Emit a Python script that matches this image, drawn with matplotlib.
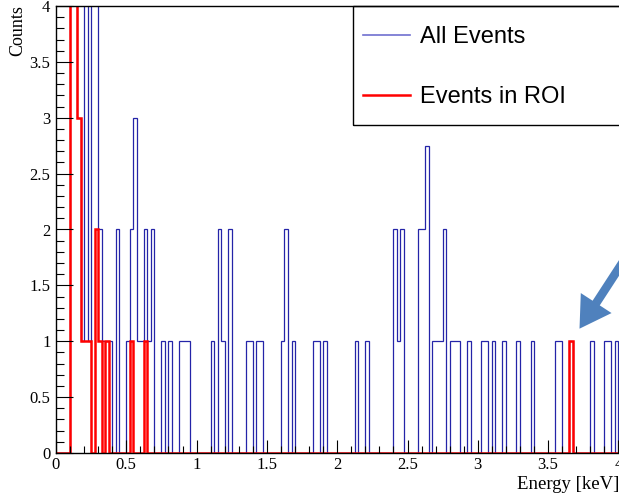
import numpy as np
import matplotlib
matplotlib.use("Agg")
import matplotlib.pyplot as plt
from matplotlib.lines import Line2D
from matplotlib.patches import Rectangle, FancyArrowPatch
from matplotlib.ticker import MultipleLocator, FormatStrFormatter

# histogram contents, 0.025 keV bins starting at 0 keV
bin_width = 0.025
all_events = [
    0, 0, 0, 0, 6, 5, 3, 1, 5, 1, 5, 5, 2, 1, 1, 1, 0, 2, 0, 0,
    1, 2, 3, 1, 1, 2, 1, 2, 0, 0, 1, 0, 1, 0, 0, 1, 1, 1, 0, 0,
    0, 0, 0, 0, 1, 0, 2, 1, 0, 2, 0, 0, 0, 0, 1, 1, 0, 1, 1, 0,
    0, 0, 0, 0, 1, 2, 0, 1, 0, 0, 0, 0, 0, 1, 1, 0, 1, 0, 0, 0,
    0, 0, 0, 0, 0, 1, 0, 0, 1, 0, 0, 0, 0, 0, 0, 0, 2, 1, 2, 0,
    0, 0, 0, 2, 2, 2.75, 0, 1, 1, 1, 2, 0, 1, 1, 1, 0, 0, 1, 0, 0,
    0, 1, 1, 0, 1, 0, 0, 1, 0, 0, 0, 1, 0, 0, 0, 1, 0, 0, 0, 0,
    0, 0, 1, 1, 0, 0, 1, 0, 0, 0, 0, 0, 1, 0, 0, 0, 1, 1, 0, 1,
]
roi_events = [
    0, 0, 0, 0, 6, 5, 3, 1, 1, 1, 0, 2, 1, 0, 1, 0, 0, 0, 0, 0,
    0, 1, 0, 0, 0, 1, 0, 0, 0, 0, 0, 0, 0, 0, 0, 0, 0, 0, 0, 0,
    0, 0, 0, 0, 0, 0, 0, 0, 0, 0, 0, 0, 0, 0, 0, 0, 0, 0, 0, 0,
    0, 0, 0, 0, 0, 0, 0, 0, 0, 0, 0, 0, 0, 0, 0, 0, 0, 0, 0, 0,
    0, 0, 0, 0, 0, 0, 0, 0, 0, 0, 0, 0, 0, 0, 0, 0, 0, 0, 0, 0,
    0, 0, 0, 0, 0, 0, 0, 0, 0, 0, 0, 0, 0, 0, 0, 0, 0, 0, 0, 0,
    0, 0, 0, 0, 0, 0, 0, 0, 0, 0, 0, 0, 0, 0, 0, 0, 0, 0, 0, 0,
    0, 0, 0, 0, 0, 0, 1, 0, 0, 0, 0, 0, 0, 0, 0, 0, 0, 0, 0, 0,
]
edges = np.arange(len(all_events) + 1) * bin_width

blue = "#2424a8"
red = "#ff0000"
serif = "Liberation Serif"

fig = plt.figure(figsize=(6.19, 4.94), dpi=100)
# axis runs off the right edge of the picture
ax = fig.add_axes([56/619, 41/494, 4.4*140.6/619, 447/494])

ax.stairs(all_events, edges, color=blue, lw=0.9)
ax.stairs(roi_events, edges, color=red, lw=1.8)

ax.set_xlim(0, 4.4)
ax.set_ylim(0, 4)

ax.xaxis.set_major_locator(MultipleLocator(0.5))
ax.xaxis.set_minor_locator(MultipleLocator(0.1))
ax.yaxis.set_major_locator(MultipleLocator(0.5))
ax.yaxis.set_minor_locator(MultipleLocator(0.1))
ax.xaxis.set_major_formatter(FormatStrFormatter("%g"))
ax.yaxis.set_major_formatter(FormatStrFormatter("%g"))
ax.tick_params(axis="x", which="major", direction="in", length=9.5, width=0.8, pad=3)
ax.tick_params(axis="x", which="minor", direction="in", length=5, width=0.8)
ax.tick_params(axis="y", which="major", direction="in", length=12, width=0.8, pad=4)
ax.tick_params(axis="y", which="minor", direction="in", length=6, width=0.8)
for lab in ax.get_xticklabels() + ax.get_yticklabels():
    lab.set_family(serif)
    lab.set_fontsize(12)
for s in ax.spines.values():
    s.set_linewidth(1)

fig.text(18/619, 1 - 5/494, "Counts", rotation=90, ha="center", va="top",
         family=serif, fontsize=13)
fig.text(1.0, 5/494, "Energy [keV]", ha="right", va="baseline",
         family=serif, fontsize=13.5)

# legend
handles = [Line2D([], [], color="#7070d0", lw=1.2), Line2D([], [], color=red, lw=1.8)]
fig.legend(handles, ["All Events", "Events in ROI"], loc="upper left",
           bbox_to_anchor=(363/619, 1 - 26/494), bbox_transform=fig.transFigure,
           frameon=False, prop={"family": "Liberation Sans", "size": 17},
           handlelength=2.0, handletextpad=0.42, labelspacing=1.63,
           borderpad=0, borderaxespad=0)
fig.patches.append(Rectangle((353/619, 1 - 125/494), 300/619, 119/494,
                             transform=fig.transFigure, fill=False,
                             edgecolor="black", lw=1))

# arrow pointing at the ROI event near 3.65 keV
fig.patches.append(FancyArrowPatch((645/619, 1 - 228/494), (578/619, 1 - 331/494),
                                   transform=fig.transFigure,
                                   arrowstyle="simple,head_length=1.0,head_width=1.2,tail_width=0.28",
                                   mutation_scale=22, color="#4f81bd", lw=0))

fig.savefig("out.png", dpi=100)
